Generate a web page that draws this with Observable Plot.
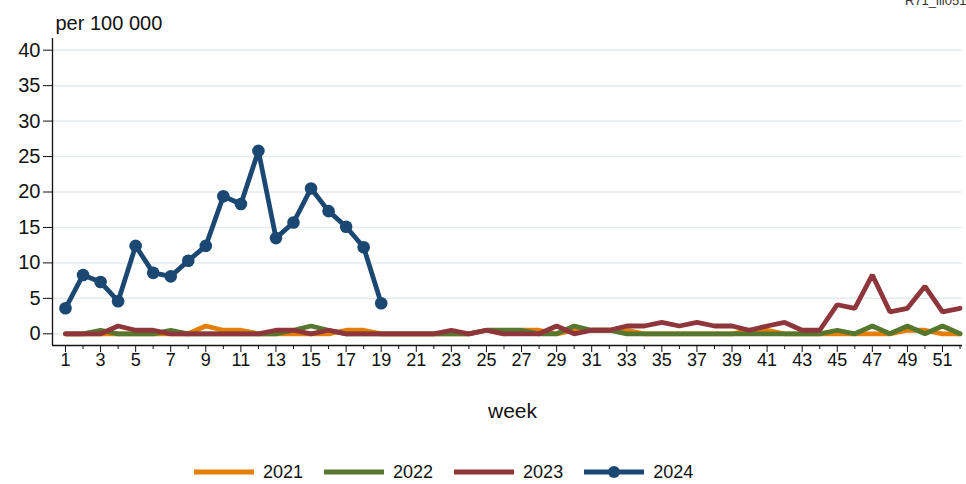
<!DOCTYPE html>
<html><head><meta charset="utf-8">
<script src="https://cdn.jsdelivr.net/npm/d3@7"></script>
<script src="https://cdn.jsdelivr.net/npm/@observablehq/plot@0.6"></script>
<style>
body{margin:0;background:#fff;font-family:"Liberation Sans",Arial,sans-serif;}
#wrap{position:relative;width:966px;height:484px;overflow:hidden;background:#fff;}
#code{position:absolute;left:905px;top:-7px;font-size:13px;color:#333;white-space:nowrap}
#legend{position:absolute;left:194px;top:460px;display:flex;align-items:center;font-size:18px;color:#111}
.item{display:flex;align-items:center;margin-right:21px}
.item svg{margin-right:9px}
</style></head>
<body><div id="wrap"><div id="chart"></div><div id="code">R71_ili0514</div><div id="legend"></div></div>
<script>
const weeks = [1,2,3,4,5,6,7,8,9,10,11,12,13,14,15,16,17,18,19,20,21,22,23,24,25,26,27,28,29,30,31,32,33,34,35,36,37,38,39,40,41,42,43,44,45,46,47,48,49,50,51,52];
const years = ["2021","2022","2023","2024"];
const colors = ["#e67e06","#56772f","#8e363c","#1b4872"];
const v2021 = [0,0,0,0,0,0,0,0,1.1,0.5, 0.5,0,0,0,0,0,0.5,0.5,0,0, 0,0,0,0,0.5,0,0.5,0.5,0,0.5, 0.5,0.5,0.5,0,0,0,0,0,0,0.5, 0.5,0,0,0,0,0,0,0,0.5,0.5, 0,0];
const v2022 = [0,0,0.5,0,0,0,0.5,0,0,0, 0,0,0,0.5,1.1,0.5,0,0,0,0, 0,0,0,0,0.5,0.5,0.5,0,0,1.1, 0.5,0.5,0,0,0,0,0,0,0,0, 0,0,0,0,0.5,0,1.1,0,1.1,0, 1.1,0];
const v2023 = [0,0,0,1.1,0.5,0.5,0,0,0,0, 0,0,0.5,0.5,0,0.5,0,0,0,0, 0,0,0.5,0,0.5,0,0,0,1.1,0, 0.5,0.5,1.1,1.1,1.6,1.1,1.6,1.1,1.1,0.5, 1.1,1.6,0.5,0.5,4.1,3.6,8.3,3.1,3.6,6.7, 3.1,3.6];
const v2024 = [3.6,8.3,7.3,4.6,12.4,8.6,8.1,10.3,12.4,19.4,18.3,25.8,13.5,15.7,20.5,17.3,15.1,12.2,4.3];
const yTicks = [0,5,10,15,20,25,30,35,40];
const xTicksMajor = [1,3,5,7,9,11,13,15,17,19,21,23,25,27,29,31,33,35,37,39,41,43,45,47,49,51];
const xTicksMinor = [2,4,6,8,10,12,14,16,18,20,22,24,26,28,30,32,34,36,38,40,42,44,46,48,50,52];

const series = [v2021, v2022, v2023, v2024];
const data = [];
series.forEach((vals, i) => vals.forEach((v, j) => data.push({year: years[i], week: weeks[j], value: v})));
const d2024 = data.filter(d => d.year === "2024");

const xDom = [0.26, 52.14];
const yDom = [-1.65, 41.65];

const chart = Plot.plot({
  width: 966, height: 440,
  marginLeft: 52, marginRight: 4, marginTop: 38, marginBottom: 95,
  style: {fontFamily: '"Liberation Sans", Arial, sans-serif', background: "#fff", overflow: "visible", color: "#111"},
  x: {domain: xDom},
  y: {domain: yDom},
  color: {domain: years, range: colors},
  marks: [
    Plot.gridY(yTicks, {stroke: "#e3ebef", strokeOpacity: 1, strokeWidth: 1.5}),
    Plot.ruleX([xDom[0]], {stroke: "#111", strokeWidth: 1.3}),
    Plot.ruleY([yDom[0]], {stroke: "#111", strokeWidth: 1.3}),
    Plot.axisY({ticks: yTicks, tickSize: 9, tickPadding: 3, fontSize: 20, label: null, stroke: "#111"}),
    Plot.axisX({ticks: xTicksMajor, tickSize: 7, tickPadding: 1, fontSize: 18, label: null, tickFormat: d => String(d)}),
    Plot.axisX({ticks: xTicksMinor, tickSize: 4, tickFormat: () => "", label: null}),
    Plot.text(["per 100 000"], {frameAnchor: "top-left", dx: 3, dy: -9, textAnchor: "start", fontSize: 20, lineAnchor: "bottom"}),
    Plot.text(["week"], {frameAnchor: "bottom", dx: 5, dy: 72, fontSize: 21}),
    Plot.lineY(data, {x: "week", y: "value", stroke: "year", z: "year", strokeWidth: 4.8, strokeLinejoin: "miter"}),
    Plot.dot(d2024, {x: "week", y: "value", r: 6.3, fill: colors[3], stroke: "none"})
  ]
});
document.getElementById("chart").appendChild(chart);

const legend = document.getElementById("legend");
years.forEach((y, i) => {
  const item = document.createElement("div");
  item.className = "item";
  const dot = i === 3 ? `<circle cx="30" cy="12" r="6" fill="${colors[i]}"/>` : "";
  item.innerHTML = `<svg width="60" height="24"><line x1="0" x2="60" y1="12" y2="12" stroke="${colors[i]}" stroke-width="4.8"/>${dot}</svg><span>${y}</span>`;
  legend.appendChild(item);
});
</script>
</body></html>
